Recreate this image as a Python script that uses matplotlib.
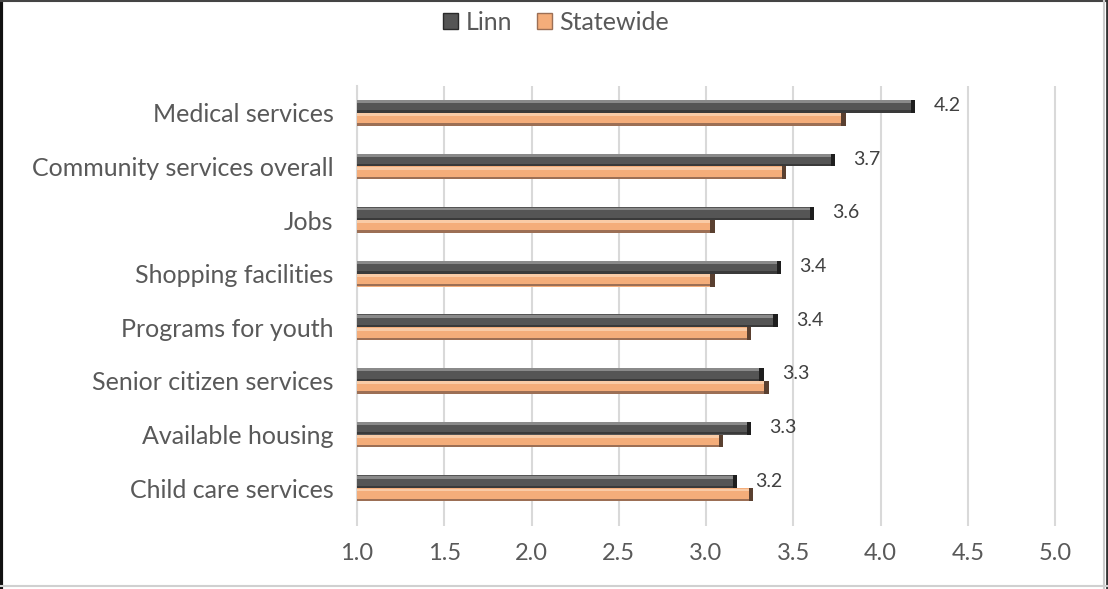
import numpy as np
import matplotlib.pyplot as plt
from matplotlib.lines import Line2D
from matplotlib.patches import Patch

categories = [
    "Medical services",
    "Community services overall",
    "Jobs",
    "Shopping facilities",
    "Programs for youth",
    "Senior citizen services",
    "Available housing",
    "Child care services",
]
linn = [4.20, 3.74, 3.62, 3.43, 3.41, 3.33, 3.26, 3.18]
statewide = [3.80, 3.46, 3.05, 3.05, 3.26, 3.36, 3.10, 3.27]
x_ticks = [1.0, 1.5, 2.0, 2.5, 3.0, 3.5, 4.0, 4.5, 5.0]

FONT = ["Lato", "DejaVu Sans"]
TXT = "#595959"
GRID = "#d9d9d9"

plt.rcParams["font.family"] = FONT

fig = plt.figure(figsize=(11.08, 5.89), dpi=100)
ax = fig.add_axes([0.3222, 0.1256, 0.6316, 0.7284])

y = np.arange(len(categories))
h = 0.24


def bevel_bar(ax, ypos, vals, base, light, dark, cap):
    vals = np.asarray(vals)
    left = 1.0
    w = vals - left
    ax.barh(ypos, w, left=left, height=h, color=base, zorder=3)
    # top highlight and bottom shadow to fake Excel's bevel
    ax.barh(ypos - h * 0.36, w, left=left, height=h * 0.22, color=light, zorder=4)
    ax.barh(ypos + h * 0.40, w, left=left, height=h * 0.18, color=dark, zorder=4)
    ax.barh(ypos, 0.025, left=vals - 0.025, height=h, color=cap, zorder=5)


bevel_bar(ax, y - h / 2, linn, "#555555", "#8a8a8a", "#3a3a3a", "#1e1e1e")
bevel_bar(ax, y + h / 2, statewide, "#f4ad7a", "#f9cba6", "#9c6f55", "#5a4030")

for yi, v in zip(y, linn):
    ax.annotate(f"{v:.1f}", (v, yi - h / 2), xytext=(13, 0.5), textcoords="offset points",
                ha="left", va="center", fontsize=14, color="#404040")

ax.set_xlim(1.0, 5.01)
ax.set_ylim(len(categories) - 0.5, -0.5)
ax.set_xticks(x_ticks)
ax.set_xticklabels([f"{t:.1f}" for t in x_ticks])
ax.set_yticks(y)
ax.set_yticklabels(categories)
ax.tick_params(axis="y", length=0, pad=17, labelsize=18, labelcolor=TXT)
ax.tick_params(axis="x", length=8, width=1.5, color=GRID, pad=12, labelsize=17, labelcolor=TXT)
ax.grid(axis="x", color=GRID, lw=1.5, zorder=0)
for s in ["top", "right", "bottom"]:
    ax.spines[s].set_visible(False)
ax.spines["left"].set_color(GRID)
ax.spines["left"].set_linewidth(1.5)

handles = [
    Patch(facecolor="#555555", edgecolor="#2a2a2a", label="Linn"),
    Patch(facecolor="#f4ad7a", edgecolor="#9c6f55", label="Statewide"),
]
fig.legend(handles=handles, loc="center", bbox_to_anchor=(0.502, 0.962), ncol=2, frameon=False,
           fontsize=18, labelcolor=TXT, handlelength=0.6, handleheight=0.6,
           handletextpad=0.3, columnspacing=1.0)

# frame around the chart
fig.add_artist(Line2D([0.001, 0.001], [0, 1], color="#111111", lw=3, transform=fig.transFigure))
fig.add_artist(Line2D([0, 1], [0.999, 0.999], color="#444444", lw=1.5, transform=fig.transFigure))
fig.add_artist(Line2D([0.9960, 0.9960], [0, 1], color="#cccccc", lw=1.5, transform=fig.transFigure))
fig.add_artist(Line2D([0.9990, 0.9990], [0, 1], color="#333333", lw=2, transform=fig.transFigure))
fig.add_artist(Line2D([0, 1], [0.005, 0.005], color="#d0d0d0", lw=1.5, transform=fig.transFigure))

fig.savefig("out.png", dpi=100)
